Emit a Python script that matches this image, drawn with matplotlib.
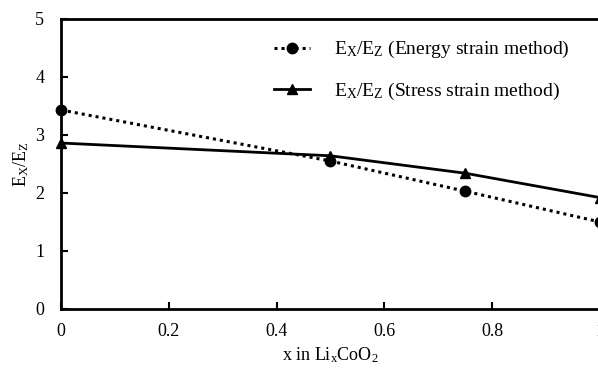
import matplotlib
matplotlib.use("Agg")
import matplotlib.pyplot as plt

plt.rcParams["font.family"] = ["Liberation Serif"]
plt.rcParams["mathtext.fontset"] = "custom"
plt.rcParams["mathtext.rm"] = "Liberation Serif"
plt.rcParams["mathtext.it"] = "Liberation Serif"

x = [0, 0.5, 0.75, 1.0]
energy = [3.43, 2.55, 2.03, 1.50]
stress = [2.86, 2.64, 2.34, 1.92]

fig = plt.figure(figsize=(5.98, 3.70), dpi=100)
ax = fig.add_axes([0.102, 0.165, 0.901, 0.784])

ax.plot(x, energy, color="black", linestyle=(0, (1, 1.3)), linewidth=2.2,
        marker="o", markersize=7.5, clip_on=False,
        label=r"E$_\mathrm{X}$/E$_\mathrm{Z}$ (Energy strain method)")
ax.plot(x, stress, color="black", linestyle="-", linewidth=2,
        marker="^", markersize=7.5, clip_on=False,
        label=r"E$_\mathrm{X}$/E$_\mathrm{Z}$ (Stress strain method)")

ax.set_xlim(0, 1)
ax.set_ylim(0, 5)
ax.set_xticks([0, 0.2, 0.4, 0.6, 0.8, 1])
ax.set_xticklabels(["0", "0.2", "0.4", "0.6", "0.8", "1"])
ax.set_yticks([0, 1, 2, 3, 4, 5])
ax.tick_params(direction="in", length=5, width=1.5, labelsize=13)
ax.tick_params(axis="x", pad=10)
ax.tick_params(axis="y", pad=12)
for s in ax.spines.values():
    s.set_linewidth(2)

ax.set_xlabel(r"x in Li$_\mathrm{x}$CoO$_2$", fontsize=13, labelpad=4)
ax.set_ylabel(r"E$_\mathrm{X}$/E$_\mathrm{Z}$", fontsize=13, labelpad=3)

ax.legend(loc="upper left", bbox_to_anchor=(0.362, 0.99), frameon=False,
          fontsize=14, handlelength=1.9, labelspacing=1.05, handletextpad=1.2)

fig.savefig("out.png", dpi=100)
